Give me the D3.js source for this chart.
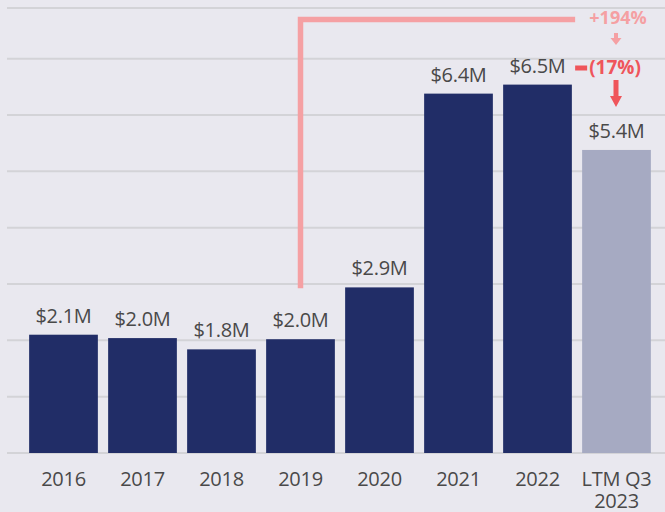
<!DOCTYPE html>
<html>
<head>
<meta charset="utf-8">
<script src="https://cdn.jsdelivr.net/npm/d3@7"></script>
<style>
  html, body { margin: 0; padding: 0; background: #E9E8EF; }
  svg { display: block; }
  text { font-family: "Open Sans", "DejaVu Sans", sans-serif; }
</style>
</head>
<body>
<svg id="chart" width="665" height="512"></svg>
<script>
// Annual revenue, $M
const categories = ["2016", "2017", "2018", "2019", "2020", "2021", "2022", "LTM Q3\n2023"];
const revenue = [2.10, 2.04, 1.84, 2.02, 2.94, 6.38, 6.54, 5.38];
const gridTicks = [0, 1, 2, 3, 4, 5, 6, 7, 7.9];
const growthLabel = "+194%";
const declineLabel = "(17%)";

const W = 665, H = 512;
const svg = d3.select("#chart");

svg.append("rect").attr("width", W).attr("height", H).attr("fill", "#E9E8EF");

const x = d3.scaleBand()
  .domain(categories)
  .range([24, 656])
  .paddingInner(0.13)
  .paddingOuter(0.065);

const y = d3.scaleLinear().domain([0, 7.9]).range([453, 8]);

// horizontal gridlines
svg.append("g")
  .selectAll("line")
  .data(gridTicks)
  .join("line")
  .attr("x1", 7).attr("x2", W)
  .attr("y1", d => y(d)).attr("y2", d => y(d))
  .attr("stroke", "#D3D3D7")
  .attr("stroke-width", 2);

// bars
const rows = categories.map((c, i) => ({ cat: c, value: revenue[i], last: i === categories.length - 1 }));

svg.append("g")
  .selectAll("rect")
  .data(rows)
  .join("rect")
  .attr("x", d => x(d.cat))
  .attr("width", x.bandwidth())
  .attr("y", d => y(d.value))
  .attr("height", d => y(0) - y(d.value))
  .attr("fill", d => d.last ? "#A6AAC2" : "#212D67");

// value labels
svg.append("g")
  .selectAll("text")
  .data(rows)
  .join("text")
  .attr("x", d => x(d.cat) + x.bandwidth() / 2)
  .attr("y", d => y(d.value) - 12)
  .attr("text-anchor", "middle")
  .attr("font-size", 20)
  .attr("letter-spacing", -0.3)
  .attr("fill", "#494949")
  .text(d => "$" + d.value.toFixed(1) + "M");

// category labels
const xl = svg.append("g")
  .selectAll("text")
  .data(rows)
  .join("text")
  .attr("x", d => x(d.cat) + x.bandwidth() / 2)
  .attr("y", 486)
  .attr("text-anchor", "middle")
  .attr("font-size", 20)
  .attr("letter-spacing", -0.3)
  .attr("fill", "#494949");
xl.each(function (d) {
  const lines = d.cat.split("\n");
  d3.select(this).selectAll("tspan")
    .data(lines)
    .join("tspan")
    .attr("x", x(d.cat) + x.bandwidth() / 2)
    .attr("dy", (l, i) => i === 0 ? 0 : 22)
    .text(l => l);
});

// growth bracket: 2019 -> LTM
const c2019 = x("2019") + x.bandwidth() / 2;
const last = categories[categories.length - 1];
const cLast = x(last) + x.bandwidth() / 2;
const bracketY = 19.5;
const pink = "#F5A0A3";
const red = "#EF555B";

svg.append("path")
  .attr("d", d3.line()([[c2019, y(revenue[3]) - 51], [c2019, bracketY], [x(last) - 7, bracketY]]))
  .attr("fill", "none")
  .attr("stroke", pink)
  .attr("stroke-width", 5.5);

svg.append("text")
  .attr("x", cLast + 1.5)
  .attr("y", 24)
  .attr("text-anchor", "middle")
  .attr("font-size", 18)
  .attr("font-weight", 700)
  .attr("fill", pink)
  .text(growthLabel);

function arrow(cx, top, headTop, bottom, stemW, headW, color) {
  const p = d3.path();
  p.moveTo(cx - stemW / 2, top);
  p.lineTo(cx + stemW / 2, top);
  p.lineTo(cx + stemW / 2, headTop);
  p.lineTo(cx + headW / 2, headTop);
  p.lineTo(cx, bottom);
  p.lineTo(cx - headW / 2, headTop);
  p.lineTo(cx - stemW / 2, headTop);
  p.closePath();
  svg.append("path").attr("d", p.toString()).attr("fill", color);
}

arrow(cLast - 0.5, 33, 38, 45, 4, 11, pink);

// decline marker: 2022 -> LTM
svg.append("rect")
  .attr("x", x(last) - 7).attr("width", 12)
  .attr("y", 65.5).attr("height", 5)
  .attr("fill", red);

svg.append("text")
  .attr("x", cLast - 1.5)
  .attr("y", 74)
  .attr("text-anchor", "middle")
  .attr("font-size", 19)
  .attr("font-weight", 700)
  .attr("fill", red)
  .text(declineLabel);

arrow(cLast - 0.5, 80, 96, 107, 5, 12, red);
</script>
</body>
</html>
